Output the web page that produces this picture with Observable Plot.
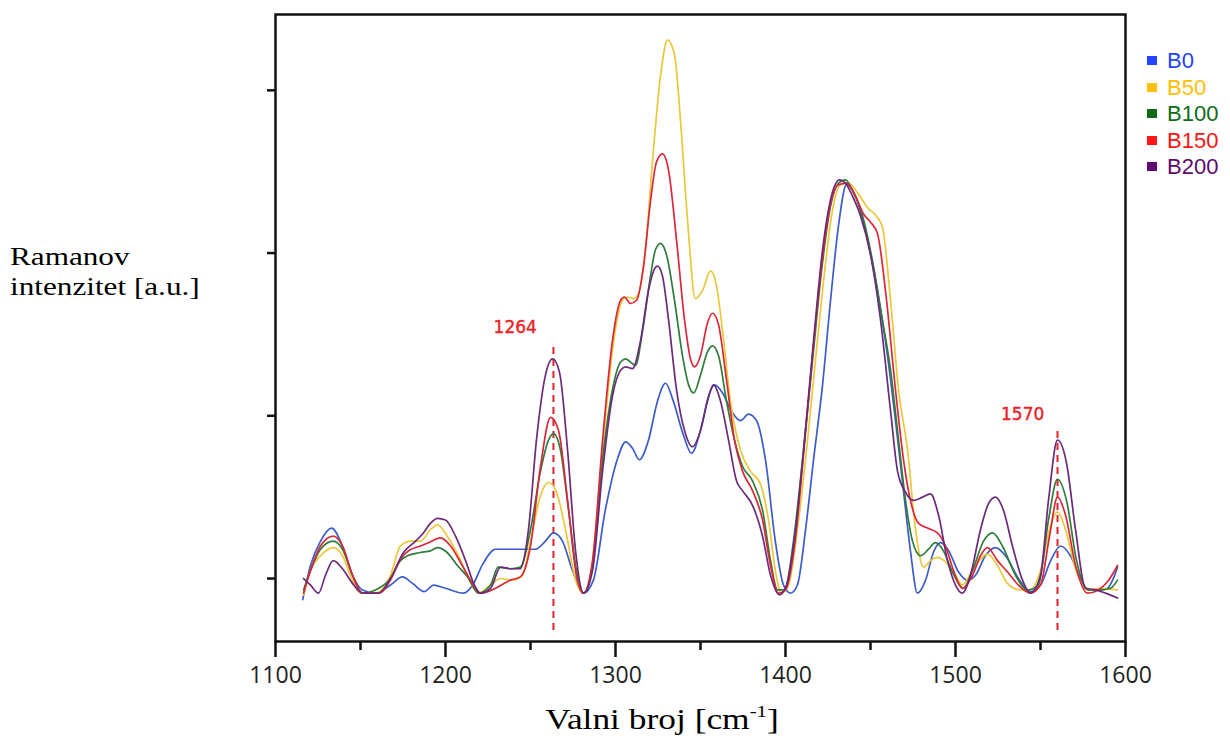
<!DOCTYPE html>
<html>
<head>
<meta charset="utf-8">
<script src="https://cdn.jsdelivr.net/npm/d3@7"></script>
<script src="https://cdn.jsdelivr.net/npm/@observablehq/plot@0.6"></script>
<style>
  body { margin: 0; background: #fff; }
  #wrap { position: relative; width: 1230px; height: 749px; overflow: hidden; }
  .ylab { position: absolute; left: 10px; top: 242px; font-family: "Liberation Serif", "Times New Roman", serif; font-size: 26px; line-height: 30px; color: #000; transform: scaleX(1.2); transform-origin: 0 0; white-space: nowrap; }
  .xlab { position: absolute; left: 662px; top: 703px; font-family: "Liberation Serif", "Times New Roman", serif; font-size: 29px; color: #000; transform: translateX(-50%) scaleX(1.22); white-space: nowrap; }
  .xlab sup { font-size: 17px; vertical-align: 0; position: relative; top: -12px; }
  .legend { position: absolute; left: 1147px; top: 48px; font-family: "Liberation Sans", Arial, sans-serif; font-size: 22px; }
  .legend div { height: 26.5px; line-height: 26.5px; white-space: nowrap; }
  .legend span.sw { display: inline-block; width: 10px; height: 9px; margin-right: 10px; vertical-align: 3px; }
</style>
</head>
<body>
<div id="wrap">
  <div id="chart"></div>
  <div class="ylab">Ramanov<br>intenzitet [a.u.]</div>
  <div class="xlab">Valni broj [cm<sup>-1</sup>]</div>
  <div class="legend" id="legend"></div>
</div>
<script>
// ---------- data (wavenumber cm^-1, intensity a.u.) ----------
const seriesNames = ["B0", "B50", "B100", "B150", "B200"];
const legendColors = ["#1f45ff", "#ffc000", "#0b6b16", "#ff1414", "#5e0a6e"];
const lineColors = ["#3b5cc9", "#ecc73c", "#2f7d3b", "#d9283a", "#6c2a7a"];

const xTicks = [1100, 1200, 1300, 1400, 1500, 1600];
const xMinorTicks = [1150, 1250, 1350, 1450, 1550];
const yTicks = [0, 1, 2, 3];

const markerX = [1263.5, 1560];
const markerLabels = ["1264", "1570"];
const markerTop = [1.43, 0.92];
const markerBottom = [-0.32, -0.32];
const markerLabelX = [1241, 1539.5];
const markerLabelY = [1.54, 1.01];

const b0 = [
  [1116,-0.13],[1120.6,0.08],[1126.5,0.23],[1133,0.31],[1139.4,0.20],[1145.3,0.02],[1151.2,-0.07],[1158.8,-0.09],
  [1167.6,-0.04],[1174.7,0.01],[1180.6,-0.03],[1187.6,-0.08],[1193,-0.04],[1200,-0.06],[1210.6,-0.09],[1216,-0.04],
  [1222,0.09],[1229.4,0.18],[1241,0.18],[1253,0.18],[1258.8,0.23],[1263.5,0.28],[1268.8,0.23],[1274.7,0.05],
  [1281.2,-0.09],[1287,-0.01],[1294,0.42],[1301,0.73],[1306,0.84],[1310,0.80],[1314,0.73],[1319.4,0.85],
  [1324.7,1.09],[1329.4,1.20],[1334,1.09],[1340,0.88],[1344.7,0.77],[1350,0.91],[1354.7,1.12],[1358.2,1.19],
  [1363,1.14],[1367.6,1.04],[1373.5,0.97],[1378.2,1.01],[1383,0.97],[1388.2,0.73],[1394,0.23],[1398.8,-0.04],
  [1403,-0.09],[1407,-0.04],[1411.8,0.30],[1416.5,0.73],[1421.8,1.19],[1426.5,1.71],[1431.2,2.17],[1435.9,2.42],
  [1441.2,2.35],[1447,2.14],[1453,1.83],[1460,1.37],[1464.7,0.97],[1469.4,0.54],[1473.5,0.17],[1477.6,-0.09],
  [1482.4,-0.01],[1487,0.16],[1491.2,0.22],[1496,0.17],[1501.8,0.04],[1507,-0.01],[1511.8,0.02],[1517.6,0.14],
  [1523.5,0.19],[1529.4,0.14],[1537,0],[1544,-0.08],[1550,-0.04],[1556,0.11],[1561.8,0.20],[1567.6,0.14],
  [1573.5,0],[1578.2,-0.07],[1585.3,-0.07],[1589.4,-0.06],[1592.4,-0.01],[1595.3,0.07]
];
const b50 = [
  [1116.5,-0.10],[1120.6,0.05],[1126.5,0.14],[1134,0.19],[1139.4,0.14],[1144,0.02],[1150,-0.09],[1158.8,-0.09],
  [1167.6,0.02],[1173.5,0.20],[1179.4,0.23],[1185.3,0.23],[1191.2,0.30],[1195.3,0.33],[1201,0.26],[1207.6,0.14],
  [1213.5,0],[1219.4,-0.09],[1226.5,-0.04],[1232.4,0],[1239.4,-0.01],[1245.3,0.02],[1250,0.23],[1255.9,0.51],
  [1260.6,0.59],[1265.3,0.53],[1270.6,0.30],[1276.5,-0.01],[1281.2,-0.09],[1286.5,0.11],[1292.4,0.79],[1298.2,1.40],
  [1304.1,1.71],[1307,1.73],[1310.6,1.72],[1313.5,1.75],[1317.6,2.02],[1321.8,2.57],[1326.5,3.09],[1330.6,3.31],
  [1334.7,3.22],[1338.2,2.82],[1342.4,2.20],[1347,1.72],[1351.2,1.77],[1355.9,1.89],[1359.4,1.80],[1363,1.52],
  [1367.6,1.09],[1373.5,0.79],[1379.4,0.66],[1385.3,0.58],[1390,0.36],[1394,0.05],[1397.6,-0.09],[1401.8,-0.04],
  [1407,0.30],[1412.4,0.79],[1417.6,1.34],[1422.4,1.83],[1427.6,2.26],[1432.4,2.42],[1437,2.43],[1442.4,2.37],
  [1448.2,2.28],[1454,2.22],[1457,2.16],[1461.8,1.71],[1466.5,1.16],[1471.8,0.79],[1476.5,0.30],[1481.2,0.07],
  [1485.3,0.11],[1489.4,0.13],[1495.3,0.09],[1500,0.02],[1504,-0.04],[1510,0.05],[1518.8,0.15],[1524.7,0.08],
  [1530.6,-0.03],[1538,-0.07],[1544,-0.07],[1550,0.05],[1556,0.33],[1560,0.41],[1564.7,0.30],[1570.6,0.06],
  [1577.6,-0.07],[1585.3,-0.06],[1595.3,-0.07]
];
const b100 = [
  [1116.5,-0.07],[1120.6,0.05],[1126.5,0.18],[1134,0.23],[1139.4,0.18],[1145.3,0.02],[1151.2,-0.09],[1158.8,-0.07],
  [1167.6,0],[1173.5,0.11],[1177.6,0.14],[1185.3,0.16],[1191.2,0.17],[1195.3,0.19],[1201,0.16],[1207,0.08],
  [1213,0.01],[1219.4,-0.09],[1226.5,-0.04],[1231,0.07],[1238,0.06],[1244,0.07],[1250,0.30],[1255.9,0.66],
  [1260.6,0.85],[1263.5,0.89],[1267.6,0.79],[1272.4,0.42],[1277,0.05],[1281.2,-0.09],[1286.5,0.08],[1292.4,0.73],
  [1298.2,1.16],[1303,1.33],[1306,1.35],[1308.8,1.33],[1311.8,1.31],[1315.9,1.52],[1320.6,1.86],[1323.5,2.02],
  [1326.5,2.06],[1330,1.99],[1334.7,1.71],[1339.4,1.37],[1343,1.19],[1346,1.14],[1350,1.25],[1354,1.39],
  [1357,1.43],[1360.6,1.37],[1365.3,1.09],[1370,0.85],[1374.7,0.69],[1380.6,0.60],[1386.5,0.42],[1391.2,0.11],
  [1395.3,-0.07],[1399.4,-0.07],[1404.7,0.23],[1410,0.73],[1415.9,1.34],[1421.2,1.89],[1426.5,2.29],[1431.2,2.43],
  [1435.3,2.45],[1440,2.37],[1445.3,2.23],[1451.2,1.95],[1457,1.59],[1461.8,1.28],[1466.5,0.85],[1470.6,0.48],
  [1474.7,0.23],[1479.4,0.14],[1484.1,0.18],[1488.2,0.22],[1492.9,0.17],[1498.2,0.04],[1504.7,-0.06],[1510,0.05],
  [1516.5,0.23],[1521.8,0.28],[1527.6,0.20],[1535.3,0.02],[1542.4,-0.07],[1548.8,-0.04],[1554.7,0.36],[1560,0.61],
  [1565.3,0.48],[1571.2,0.11],[1578.2,-0.07],[1585.3,-0.07],[1591.2,-0.06],[1595.3,-0.01]
];
const b150 = [
  [1116.5,-0.09],[1120.6,0.05],[1126.5,0.20],[1134,0.26],[1139.4,0.20],[1145.3,0.02],[1151.2,-0.09],[1160.6,-0.09],
  [1167.6,-0.01],[1173.5,0.12],[1178.2,0.17],[1185.3,0.20],[1190,0.22],[1197,0.25],[1203,0.20],[1208.8,0.10],
  [1214.7,-0.01],[1220.6,-0.09],[1229.4,-0.06],[1238.2,-0.01],[1244,0.01],[1250,0.20],[1255.9,0.69],[1261.8,0.99],
  [1266.5,0.91],[1271.8,0.48],[1277,0.02],[1281.2,-0.09],[1286.5,0.11],[1292.4,0.85],[1298.2,1.46],[1303,1.71],
  [1305.3,1.73],[1308.8,1.69],[1312.4,1.71],[1316.5,1.92],[1320.6,2.32],[1324.1,2.56],[1327.6,2.61],[1331.2,2.51],
  [1335.9,2.08],[1340.6,1.59],[1344.1,1.35],[1346.5,1.30],[1350,1.37],[1354.1,1.57],[1357,1.63],[1360.6,1.56],
  [1365.3,1.22],[1370,0.85],[1374.7,0.66],[1380.6,0.54],[1386.5,0.36],[1391.2,0.08],[1395.9,-0.09],[1400,-0.07],
  [1405.3,0.20],[1410.6,0.76],[1415.9,1.37],[1421.2,1.92],[1426.5,2.30],[1431.2,2.42],[1435.9,2.43],[1441.2,2.35],
  [1445.9,2.24],[1450,2.19],[1454.1,2.12],[1458.8,1.77],[1464.7,1.16],[1469.4,0.73],[1473.5,0.48],[1478.2,0.34],
  [1483.5,0.31],[1489.4,0.28],[1494.1,0.20],[1498.8,0.05],[1504,-0.06],[1510,0.02],[1514.7,0.14],[1518.8,0.19],
  [1524.7,0.11],[1530.6,0.04],[1537,-0.04],[1544,-0.09],[1550,-0.04],[1555.3,0.26],[1560,0.50],[1564.7,0.39],
  [1570.6,0.08],[1577.6,-0.09],[1584,-0.07],[1589.4,-0.02],[1595.3,0.08]
];
const b200 = [
  [1116.5,0],[1120.6,-0.04],[1125.3,-0.09],[1129.4,0.02],[1134,0.11],[1139.4,0.06],[1145.3,-0.03],[1151.2,-0.09],
  [1160.6,-0.09],[1167.6,0],[1175.3,0.16],[1182.4,0.23],[1187,0.28],[1191.2,0.34],[1195.3,0.37],[1200,0.36],
  [1205.9,0.26],[1211.8,0.11],[1217,-0.04],[1220.6,-0.09],[1226.5,-0.06],[1232.4,0.07],[1238.2,0.06],[1244,0.06],
  [1248.8,0.30],[1253.5,0.85],[1258.8,1.25],[1263,1.35],[1267,1.27],[1271.8,0.79],[1276.5,0.17],[1281.2,-0.09],
  [1286.5,0.05],[1292.4,0.66],[1298.2,1.12],[1303,1.28],[1306,1.30],[1310,1.29],[1314.7,1.46],[1319.4,1.77],
  [1322.4,1.89],[1324.7,1.92],[1327.6,1.86],[1331.2,1.59],[1335.9,1.16],[1340.6,0.91],[1345.3,0.81],[1350,0.91],
  [1354.1,1.09],[1357.6,1.19],[1361.8,1.09],[1366.5,0.85],[1371.2,0.60],[1374.7,0.54],[1380.6,0.45],[1386.5,0.26],
  [1391.2,0.02],[1396.5,-0.10],[1400.6,-0.04],[1405.9,0.30],[1411.2,0.85],[1416.5,1.46],[1421.8,2.02],[1427,2.35],
  [1431.8,2.45],[1435.3,2.43],[1439.4,2.35],[1444.1,2.23],[1450,1.99],[1455.9,1.59],[1461.8,1.03],[1465.9,0.66],
  [1470.6,0.53],[1475.3,0.48],[1480.6,0.50],[1485.3,0.52],[1490,0.39],[1495.3,0.11],[1500,-0.04],[1504,-0.09],
  [1508.8,0.02],[1514.7,0.30],[1519.4,0.46],[1523.5,0.50],[1528.2,0.42],[1533.5,0.20],[1539.4,-0.01],[1544,-0.09],
  [1550,0.02],[1554.7,0.48],[1560,0.85],[1565.3,0.71],[1570.6,0.30],[1576.5,-0.06],[1582.4,-0.07],[1588.2,-0.09],
  [1595.3,-0.12]
];
const seriesData = [b0, b50, b100, b150, b200];

// ---------- build ----------
const markers = markerX.map((x, i) => ({
  x, label: markerLabels[i], top: markerTop[i], bottom: markerBottom[i],
  lx: markerLabelX[i], ly: markerLabelY[i]
}));

const lineMarks = seriesData.map((data, i) =>
  Plot.line(data, {
    x: d => d[0], y: d => d[1],
    stroke: lineColors[i], strokeWidth: 1.7, curve: "monotone-x"
  })
);

const chart = Plot.plot({
  width: 1230,
  height: 749,
  marginLeft: 275,
  marginRight: 105,
  marginTop: 14,
  marginBottom: 108,
  x: { domain: [1100, 1600] },
  y: { domain: [-0.387, 3.466] },
  style: { background: "white", fontFamily: "'Open Sans', sans-serif", color: "#222" },
  marks: [
    Plot.ruleX(markers, { x: "x", y1: "bottom", y2: "top", stroke: "#e8202a", strokeWidth: 2, strokeDasharray: "7,5" }),
    ...lineMarks,
    Plot.text(markers, {
      x: "lx", y: "ly", text: "label", fill: "#ee1c24", fontSize: 17,
      fontFamily: "'DejaVu Sans', sans-serif", textAnchor: "middle", letterSpacing: "3px", stroke: "#ee1c24", strokeWidth: 0.4
    }),
    Plot.axisX({ ticks: xTicks, tickSize: 16, tickPadding: 9, fontSize: 23, tickFormat: d => String(d),
                 label: null, strokeWidth: 2.5, stroke: "#111", fill: "#222" }),
    Plot.axisX({ ticks: xMinorTicks, tickSize: 9, tickFormat: () => "", label: null, strokeWidth: 2.5, stroke: "#111" }),
    Plot.axisY({ ticks: yTicks, tickSize: 8, tickFormat: () => "", label: null, strokeWidth: 2.5, stroke: "#111" }),
    Plot.frame({ stroke: "#111", strokeWidth: 2.5 })
  ]
});
document.getElementById("chart").appendChild(chart);

// legend
const leg = document.getElementById("legend");
seriesNames.forEach((name, i) => {
  const row = document.createElement("div");
  row.style.color = legendColors[i];
  const sw = document.createElement("span");
  sw.className = "sw";
  sw.style.background = legendColors[i];
  row.appendChild(sw);
  row.appendChild(document.createTextNode(name));
  leg.appendChild(row);
});
</script>
</body>
</html>
